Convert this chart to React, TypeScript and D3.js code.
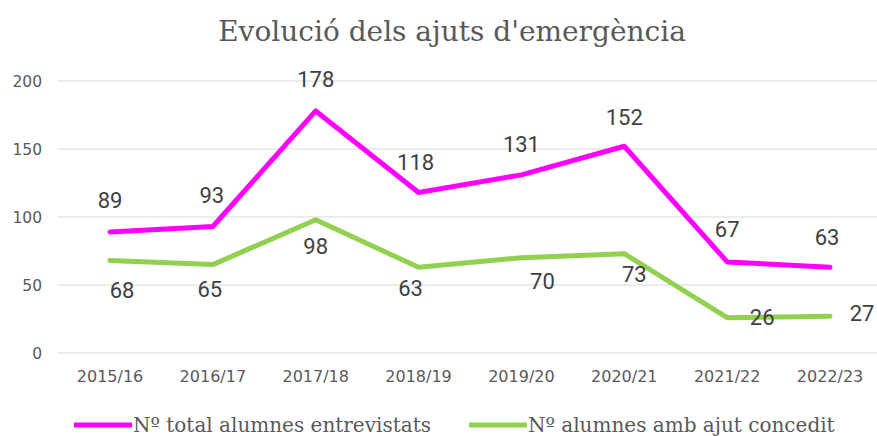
import React from "react";
import * as d3 from "d3";

const categories = ["2015/16", "2016/17", "2017/18", "2018/19", "2019/20", "2020/21", "2021/22", "2022/23"];
const totalEntrevistats = [89, 93, 178, 118, 131, 152, 67, 63];
const ajutConcedit = [68, 65, 98, 63, 70, 73, 26, 27];
const yTicks = [0, 50, 100, 150, 200];
const seriesNames = ["Nº total alumnes entrevistats", "Nº alumnes amb ajut concedit"];
const title = "Evolució dels ajuts d'emergència";

// label placement offsets (layout only)
const totalLabelOffsets: [number, number][] = [
  [0, -31], [-1, -31], [0, -31], [-3, -30], [0, -30], [0, -29], [0, -32], [-3, -30],
];
const concedLabelOffsets: [number, number][] = [
  [12, 30], [-3, 25], [0, 27], [-8, 21], [21, 24], [10, 21], [35, 0], [32, -3],
];

const W = 877;
const H = 436;
const MAGENTA = "#ff00ff";
const GREEN = "#92d050";

export default function App() {
  const x = d3.scalePoint<string>().domain(categories).range([110, 830]);
  const y = d3.scaleLinear().domain([0, 200]).range([353, 81]);
  const line = d3
    .line<number>()
    .x((_, i) => x(categories[i]) as number)
    .y((d) => y(d));

  const labelStyle = { fontFamily: "Roboto", fontSize: 22, fill: "#404040" } as const;

  return (
    <svg width={W} height={H} style={{ position: "absolute", left: 0, top: 0, background: "#fff" }}>
      <rect width={W} height={H} fill="#fff" />
      <text x={452} y={41} textAnchor="middle" fontFamily="DejaVu Serif" fontSize={28} fill="#595959">
        {title}
      </text>
      {yTicks.map((t) => (
        <g key={t}>
          <line x1={58} x2={877} y1={y(t)} y2={y(t)} stroke="#d9d9d9" strokeWidth={1} />
          <text x={42} y={y(t)} dy="0.36em" textAnchor="end" fontFamily="DejaVu Sans" fontSize={15.5} fill="#595959">
            {t}
          </text>
        </g>
      ))}
      {categories.map((c) => (
        <text key={c} x={x(c)} y={382} textAnchor="middle" fontFamily="DejaVu Sans" fontSize={16} fill="#595959">
          {c}
        </text>
      ))}
      <path d={line(totalEntrevistats) || ""} fill="none" stroke={MAGENTA} strokeWidth={5} strokeLinejoin="round" strokeLinecap="round" />
      <path d={line(ajutConcedit) || ""} fill="none" stroke={GREEN} strokeWidth={5} strokeLinejoin="round" strokeLinecap="round" />
      {totalEntrevistats.map((v, i) => (
        <text key={"t" + i} x={(x(categories[i]) as number) + totalLabelOffsets[i][0]} y={y(v) + totalLabelOffsets[i][1]} textAnchor="middle" dominantBaseline="central" {...labelStyle}>
          {v}
        </text>
      ))}
      {ajutConcedit.map((v, i) => (
        <text key={"c" + i} x={(x(categories[i]) as number) + concedLabelOffsets[i][0]} y={y(v) + concedLabelOffsets[i][1]} textAnchor="middle" dominantBaseline="central" {...labelStyle}>
          {v}
        </text>
      ))}
      <g>
        <line x1={74} x2={132} y1={425} y2={425} stroke={MAGENTA} strokeWidth={5} />
        <text x={133} y={432} fontFamily="DejaVu Serif" fontSize={20} fill="#595959">{seriesNames[0]}</text>
        <line x1={469} x2={527} y1={425} y2={425} stroke={GREEN} strokeWidth={5} />
        <text x={528} y={432} fontFamily="DejaVu Serif" fontSize={20} fill="#595959">{seriesNames[1]}</text>
      </g>
    </svg>
  );
}
